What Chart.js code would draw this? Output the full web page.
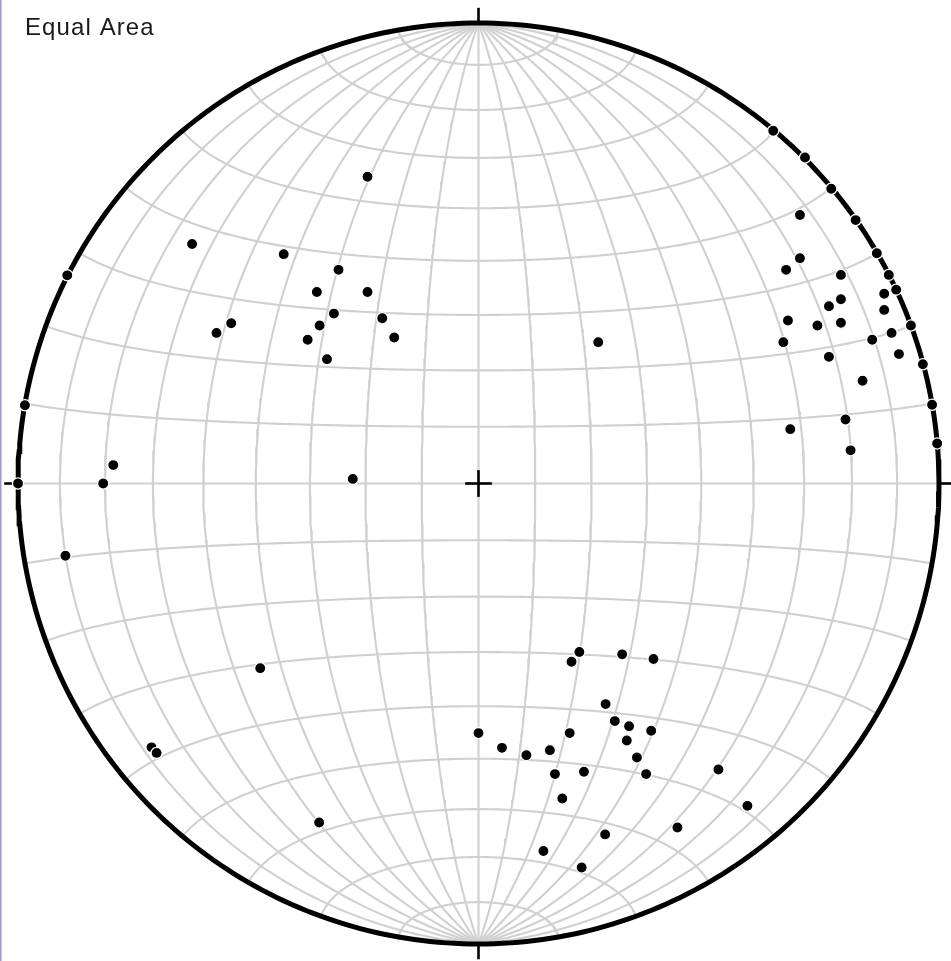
<!DOCTYPE html>
<html>
<head>
<meta charset="utf-8">
<title>Equal Area</title>
<script src="https://cdn.jsdelivr.net/npm/chart.js@4/dist/chart.umd.min.js"></script>
<style>
  html, body { margin: 0; padding: 0; background: #ffffff; }
  #net { display: block; }
</style>
</head>
<body>
<canvas id="net" width="951" height="961"></canvas>
<script>
// Lineations plotted on the lower hemisphere, in net units (east, north), primitive radius = 1
const ptEast = [
  0.640, 0.709, 0.766, 0.819, 0.698, 0.698, 0.668, 0.865, 0.891, 0.787,
  0.907, 0.881, 0.787, 0.761, 0.881, 0.672, 0.736, 0.787, 0.939, 0.662,
  0.855, 0.897, 0.761, 0.913, 0.965, 0.834, 0.985, 0.797, 0.677, 0.996,
  0.808,
  -0.241, -0.622, -0.423, -0.304, -0.351, -0.241, -0.314, -0.209, -0.537, -0.569,
  -0.345, -0.183, -0.371, -0.329, 0.260,
  -0.893, -0.985, -0.793, -0.815, -1.000, -0.273, -0.897,
  -0.474, -0.710, -0.699, -0.346,
  0.219, 0.202, 0.312, 0.380, 0.276, 0.296, 0.327, 0.375, 0.198, 0.322,
  0.155, 0.104, 0.344, 0.166, 0.229, 0.364, 0.521, 0.182, 0.000, 0.051,
  0.584, 0.432, 0.275, 0.141, 0.224
];
const ptNorth = [
  0.766, 0.708, 0.640, 0.572, 0.583, 0.489, 0.464, 0.500, 0.453, 0.453,
  0.421, 0.412, 0.400, 0.385, 0.377, 0.354, 0.343, 0.349, 0.343, 0.307,
  0.312, 0.327, 0.275, 0.281, 0.259, 0.223, 0.171, 0.139, 0.118, 0.087,
  0.072,
  0.666, 0.520, 0.498, 0.464, 0.416, 0.416, 0.369, 0.359, 0.348, 0.327,
  0.343, 0.317, 0.312, 0.270, 0.307,
  0.452, 0.170, 0.040, 0.000, 0.000, 0.010, -0.157,
  -0.401, -0.573, -0.585, -0.736,
  -0.366, -0.387, -0.371, -0.381, -0.479, -0.516, -0.527, -0.537, -0.542, -0.558,
  -0.579, -0.590, -0.595, -0.631, -0.626, -0.631, -0.621, -0.684, -0.542, -0.574,
  -0.700, -0.747, -0.762, -0.798, -0.834
];

// Net graticule spacing, degrees
const gridStep = [10, 20, 30, 40, 50, 60, 70, 80, 90, 100, 110, 120, 130, 140, 150, 160, 170];
const netTitle = 'Equal Area';

// Lambert equal-area projection of a lower-hemisphere unit vector (E, N, Down)
function project(e, n, d) {
  const k = 1 / Math.sqrt(1 + d);
  return { x: e * k, y: n * k };
}
const rad = Math.PI / 180;

// Great circles striking N-S, dipping east or west
function greatCircle(dipDeg, side) {
  const pts = [];
  const dip = dipDeg * rad;
  for (let a = 0; a <= 180; a += 1) {
    const s = Math.sin(a * rad);
    pts.push(project(side * s * Math.cos(dip), Math.cos(a * rad), s * Math.sin(dip)));
  }
  return pts;
}
// Small circles about the N-S axis
function smallCircle(coneDeg) {
  const pts = [];
  const c = coneDeg * rad;
  for (let p = 0; p <= 180; p += 1) {
    pts.push(project(Math.sin(c) * Math.cos(p * rad), Math.cos(c), Math.sin(c) * Math.sin(p * rad)));
  }
  return pts;
}

const gridStyle = {
  showLine: true, pointRadius: 0, borderColor: '#d0d0d0', borderWidth: 2.1,
  fill: false, tension: 0, order: 3
};
const gridSets = [];
gridStep.forEach(g => {
  if (g <= 90) {
    gridSets.push(Object.assign({ data: greatCircle(g, 1) }, gridStyle));
    if (g < 90) gridSets.push(Object.assign({ data: greatCircle(g, -1) }, gridStyle));
  }
  gridSets.push(Object.assign({ data: smallCircle(g) }, gridStyle));
});

// Primitive circle
const primitive = [];
for (let t = 0; t <= 360; t += 1) primitive.push({ x: Math.sin(t * rad), y: Math.cos(t * rad) });

const markStyle = {
  showLine: true, pointRadius: 0, borderColor: '#000000', borderWidth: 2.6,
  fill: false, clip: false, order: 1
};
const marks = [
  [{ x: 0, y: 1 }, { x: 0, y: 1.033 }],
  [{ x: 0, y: -1 }, { x: 0, y: -1.033 }],
  [{ x: -1, y: 0 }, { x: -1.03, y: 0 }],
  [{ x: 1, y: 0 }, { x: 1.03, y: 0 }],
  [{ x: -0.029, y: 0 }, { x: 0.029, y: 0 }],
  [{ x: 0, y: -0.029 }, { x: 0, y: 0.029 }]
].map(seg => Object.assign({ data: seg }, markStyle));

const points = ptEast.map((e, i) => ({ x: e, y: ptNorth[i] }));

const decor = {
  id: 'decor',
  beforeDraw(chart) {
    const ctx = chart.ctx;
    ctx.save();
    ctx.fillStyle = '#9b98c4';
    ctx.fillRect(0, 0, 1.5, chart.height);
    ctx.restore();
  },
  afterDraw(chart) {
    const ctx = chart.ctx;
    ctx.save();
    ctx.font = '24px "Liberation Sans", Arial, sans-serif';
    if ('letterSpacing' in ctx) ctx.letterSpacing = '1.1px';
    ctx.fillStyle = '#1a1a1a';
    ctx.textBaseline = 'alphabetic';
    ctx.fillText(netTitle, 25, 35);
    ctx.restore();
  }
};

new Chart(document.getElementById('net'), {
  type: 'scatter',
  data: {
    datasets: [
      {
        data: points, pointRadius: 5.6, pointBackgroundColor: '#000000',
        pointBorderColor: '#ffffff', pointBorderWidth: 1.3, showLine: false,
        clip: false, order: 0
      },
      {
        data: primitive, showLine: true, pointRadius: 0, borderColor: '#000000',
        borderWidth: 5, fill: false, clip: false, order: 2
      },
      ...marks,
      ...gridSets
    ]
  },
  plugins: [decor],
  options: {
    responsive: false,
    animation: false,
    events: [],
    layout: { padding: { left: 18, right: 12, top: 23, bottom: 17 } },
    scales: {
      x: { type: 'linear', min: -1, max: 1, display: false },
      y: { type: 'linear', min: -1, max: 1, display: false }
    },
    plugins: { legend: { display: false }, tooltip: { enabled: false }, title: { display: false } }
  }
});
</script>
</body>
</html>
